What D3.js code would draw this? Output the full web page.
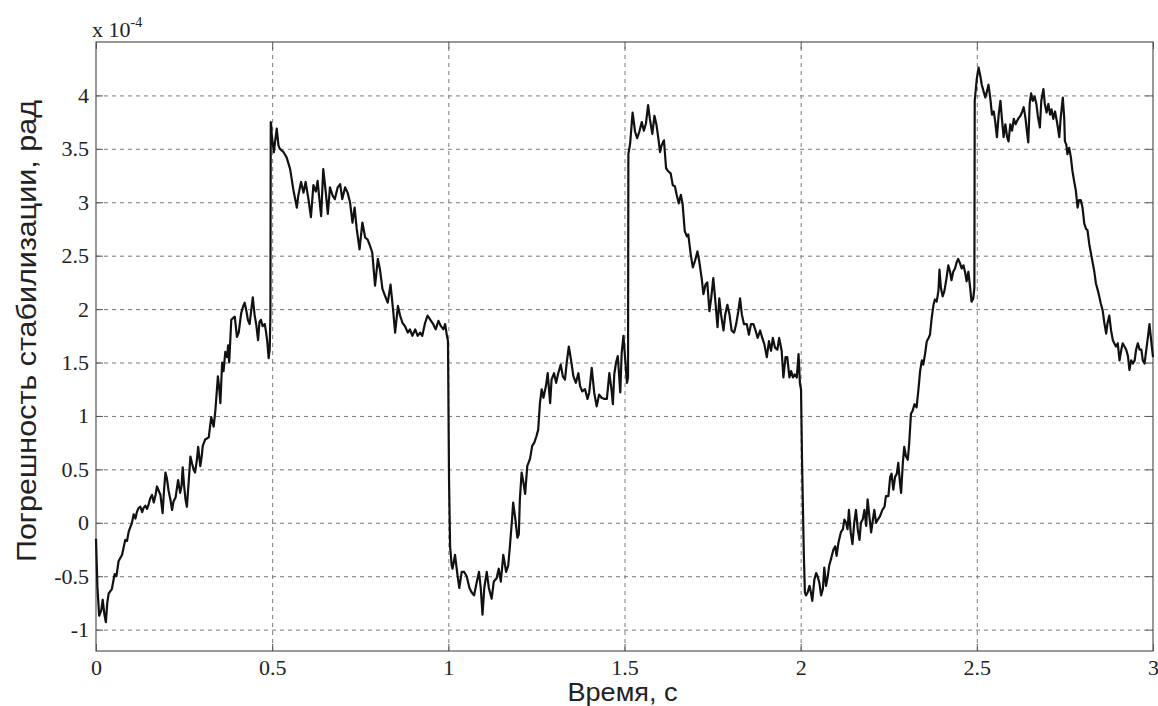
<!DOCTYPE html>
<html>
<head>
<meta charset="utf-8">
<script src="https://cdn.jsdelivr.net/npm/d3@7"></script>
<style>
  body { margin: 0; background: #ffffff; }
  svg { display: block; }
</style>
</head>
<body>
<svg id="chart" width="1158" height="706"></svg>
<script>
// Axis ticks and their labels
const xTicks = [0, 0.5, 1, 1.5, 2, 2.5, 3];
const xTickLabels = ["0", "0.5", "1", "1.5", "2", "2.5", "3"];
const yTicks = [-1, -0.5, 0, 0.5, 1, 1.5, 2, 2.5, 3, 3.5, 4];
const yTickLabels = ["-1", "-0.5", "0", "0.5", "1", "1.5", "2", "2.5", "3", "3.5", "4"];

// Stabilization error (units of 1e-4 rad) versus time, s — one pair of arrays per half-second interval
const time1 = [0, 0.004, 0.009, 0.015, 0.019, 0.024, 0.028, 0.032, 0.036, 0.045, 0.053, 0.058, 0.064, 0.074, 0.083, 0.088, 0.093, 0.102, 0.107, 0.112, 0.116, 0.121, 0.126, 0.131, 0.135, 0.14, 0.145, 0.15, 0.154, 0.159, 0.164, 0.169, 0.173, 0.178, 0.183, 0.189, 0.193, 0.197, 0.201, 0.206, 0.211, 0.216, 0.22, 0.226, 0.233, 0.239, 0.243, 0.246, 0.25, 0.254, 0.258, 0.263, 0.268, 0.273, 0.277, 0.281, 0.286, 0.29, 0.296, 0.3, 0.303, 0.31, 0.32, 0.327, 0.334, 0.339, 0.346, 0.35, 0.353, 0.358, 0.362, 0.367, 0.372, 0.375, 0.378, 0.384, 0.39, 0.394, 0.398, 0.4, 0.405, 0.412, 0.417, 0.422, 0.427, 0.431, 0.436, 0.441, 0.445, 0.45, 0.455, 0.46, 0.464, 0.468, 0.473, 0.479, 0.482, 0.486, 0.49, 0.493, 0.495];
const error1 = [-0.15, -0.6, -0.87, -0.82, -0.72, -0.86, -0.93, -0.75, -0.66, -0.62, -0.48, -0.5, -0.36, -0.3, -0.16, -0.17, -0.08, 0.0, 0.08, 0.04, 0.1, 0.14, 0.15, 0.1, 0.14, 0.16, 0.13, 0.18, 0.23, 0.26, 0.19, 0.26, 0.34, 0.3, 0.26, 0.09, 0.3, 0.47, 0.42, 0.3, 0.22, 0.12, 0.2, 0.24, 0.4, 0.28, 0.35, 0.52, 0.35, 0.22, 0.15, 0.38, 0.62, 0.55, 0.5, 0.47, 0.58, 0.71, 0.53, 0.62, 0.72, 0.78, 0.8, 0.99, 0.9, 1.06, 1.37, 1.25, 1.12, 1.5, 1.42, 1.6, 1.55, 1.66, 1.5, 1.9, 1.92, 1.93, 1.8, 1.74, 1.78, 1.96, 2.02, 2.06, 1.98, 1.9, 1.86, 2.0, 2.11, 1.95, 1.85, 1.71, 1.88, 1.9, 1.84, 1.86, 1.8, 1.7, 1.54, 1.62, 1.95];

const time2 = [0.496, 0.497, 0.499, 0.505, 0.508, 0.513, 0.518, 0.522, 0.532, 0.541, 0.551, 0.56, 0.57, 0.574, 0.582, 0.589, 0.595, 0.603, 0.61, 0.617, 0.624, 0.629, 0.634, 0.639, 0.645, 0.652, 0.658, 0.664, 0.672, 0.678, 0.686, 0.693, 0.699, 0.707, 0.714, 0.721, 0.728, 0.734, 0.74, 0.748, 0.756, 0.764, 0.771, 0.778, 0.784, 0.792, 0.8, 0.806, 0.813, 0.821, 0.828, 0.836, 0.843, 0.849, 0.857, 0.863, 0.87, 0.877, 0.885, 0.891, 0.898, 0.906, 0.913, 0.92, 0.926, 0.934, 0.941, 0.949, 0.957, 0.964, 0.972, 0.979, 0.986, 0.991, 0.996, 0.999];
const error2 = [3.75, 3.73, 3.62, 3.47, 3.56, 3.69, 3.53, 3.5, 3.47, 3.42, 3.31, 3.12, 2.95, 3.06, 3.19, 3.09, 3.19, 3.03, 2.86, 3.16, 3.1, 3.2, 3.03, 2.87, 3.31, 3.1, 2.89, 3.14, 3.06, 3.03, 3.14, 3.17, 3.03, 3.14, 3.09, 3.0, 2.81, 2.95, 2.75, 2.56, 2.81, 2.67, 2.65, 2.59, 2.53, 2.22, 2.47, 2.37, 2.19, 2.12, 2.06, 2.23, 2.0, 1.78, 2.03, 1.94, 1.87, 1.84, 1.78, 1.81, 1.75, 1.81, 1.75, 1.78, 1.75, 1.87, 1.94, 1.9, 1.86, 1.81, 1.89, 1.84, 1.81, 1.86, 1.75, 1.7];

const time3 = [1.002, 1.005, 1.0095, 1.012, 1.019, 1.026, 1.031, 1.038, 1.045, 1.052, 1.06, 1.066, 1.073, 1.081, 1.087, 1.092, 1.097, 1.102, 1.109, 1.115, 1.123, 1.129, 1.137, 1.143, 1.149, 1.156, 1.164, 1.17, 1.175, 1.181, 1.184, 1.19, 1.196, 1.2, 1.203, 1.208, 1.213, 1.218, 1.224, 1.232, 1.238, 1.244, 1.25, 1.255, 1.26, 1.265, 1.27, 1.277, 1.282, 1.289, 1.293, 1.3, 1.306, 1.312, 1.319, 1.325, 1.331, 1.336, 1.342, 1.348, 1.355, 1.362, 1.369, 1.374, 1.38, 1.388, 1.395, 1.4, 1.407, 1.414, 1.421, 1.428, 1.435, 1.442, 1.45, 1.457, 1.463, 1.467, 1.471, 1.476, 1.481, 1.488, 1.492, 1.497, 1.502, 1.507, 1.51];
const error3 = [0.4, -0.22, -0.4, -0.43, -0.3, -0.49, -0.61, -0.46, -0.46, -0.5, -0.61, -0.65, -0.68, -0.55, -0.46, -0.61, -0.86, -0.61, -0.46, -0.61, -0.71, -0.55, -0.52, -0.43, -0.55, -0.3, -0.46, -0.4, -0.21, 0.04, 0.19, 0.04, -0.14, -0.11, 0.22, 0.47, 0.38, 0.27, 0.53, 0.6, 0.72, 0.75, 0.81, 0.87, 1.12, 1.25, 1.17, 1.28, 1.4, 1.12, 1.34, 1.4, 1.31, 1.4, 1.48, 1.37, 1.34, 1.5, 1.65, 1.53, 1.37, 1.31, 1.4, 1.28, 1.23, 1.25, 1.16, 1.22, 1.45, 1.22, 1.09, 1.2, 1.17, 1.16, 1.16, 1.4, 1.25, 1.11, 1.39, 1.5, 1.56, 1.22, 1.59, 1.75, 1.53, 1.31, 1.36];

const time4 = [1.511, 1.516, 1.523, 1.53, 1.536, 1.542, 1.549, 1.555, 1.561, 1.567, 1.572, 1.579, 1.585, 1.591, 1.596, 1.601, 1.605, 1.612, 1.618, 1.624, 1.631, 1.637, 1.643, 1.648, 1.654, 1.66, 1.665, 1.671, 1.677, 1.681, 1.688, 1.694, 1.7, 1.707, 1.712, 1.719, 1.724, 1.73, 1.735, 1.741, 1.746, 1.752, 1.758, 1.764, 1.769, 1.774, 1.781, 1.786, 1.792, 1.798, 1.804, 1.811, 1.817, 1.823, 1.828, 1.833, 1.839, 1.847, 1.853, 1.859, 1.866, 1.872, 1.878, 1.885, 1.891, 1.897, 1.904, 1.91, 1.916, 1.921, 1.927, 1.934, 1.939, 1.946, 1.951, 1.957, 1.962, 1.968, 1.973, 1.978, 1.983, 1.989, 1.994, 1.998];
const error4 = [3.45, 3.55, 3.84, 3.66, 3.6, 3.66, 3.75, 3.67, 3.74, 3.91, 3.78, 3.64, 3.81, 3.72, 3.6, 3.47, 3.53, 3.58, 3.32, 3.29, 3.27, 3.16, 3.15, 3.07, 2.99, 3.07, 2.98, 2.73, 2.68, 2.7, 2.51, 2.39, 2.45, 2.54, 2.45, 2.29, 2.14, 2.23, 2.25, 1.98, 2.1, 2.29, 2.07, 1.83, 2.1, 1.95, 1.8, 1.95, 2.04, 1.95, 1.8, 1.78, 1.86, 1.98, 2.1, 1.95, 1.86, 1.86, 1.76, 1.86, 1.86, 1.8, 1.73, 1.8, 1.73, 1.67, 1.55, 1.7, 1.61, 1.73, 1.64, 1.62, 1.73, 1.61, 1.36, 1.55, 1.55, 1.36, 1.42, 1.36, 1.39, 1.36, 1.58, 1.3];

const time5 = [2.001, 2.004, 2.009, 2.012, 2.015, 2.02, 2.025, 2.029, 2.033, 2.039, 2.044, 2.048, 2.053, 2.058, 2.063, 2.067, 2.072, 2.077, 2.081, 2.086, 2.093, 2.098, 2.102, 2.107, 2.114, 2.12, 2.124, 2.129, 2.133, 2.137, 2.142, 2.147, 2.152, 2.157, 2.162, 2.167, 2.171, 2.176, 2.181, 2.186, 2.19, 2.195, 2.2, 2.205, 2.209, 2.214, 2.219, 2.225, 2.232, 2.238, 2.242, 2.249, 2.254, 2.258, 2.263, 2.268, 2.273, 2.277, 2.282, 2.285, 2.29, 2.294, 2.299, 2.304, 2.308, 2.313, 2.318, 2.323, 2.329, 2.334, 2.339, 2.344, 2.348, 2.353, 2.358, 2.363, 2.367, 2.372, 2.377, 2.381, 2.386, 2.391, 2.394, 2.398, 2.403, 2.408, 2.414, 2.419, 2.424, 2.428, 2.433, 2.438, 2.443, 2.447, 2.452, 2.457, 2.462, 2.467, 2.471, 2.476, 2.481, 2.485, 2.49, 2.493];
const error5 = [1.25, 0.56, -0.3, -0.65, -0.68, -0.65, -0.59, -0.65, -0.73, -0.53, -0.47, -0.5, -0.56, -0.68, -0.62, -0.42, -0.59, -0.5, -0.4, -0.34, -0.25, -0.22, -0.31, -0.19, -0.09, -0.06, 0.03, 0.0, -0.06, 0.12, -0.09, -0.2, 0.0, 0.12, -0.06, -0.16, 0.0, 0.03, 0.12, -0.03, 0.22, 0.06, -0.09, 0.03, 0.12, 0.0, 0.03, 0.06, 0.12, 0.15, 0.25, 0.25, 0.43, 0.46, 0.31, 0.43, 0.46, 0.56, 0.37, 0.28, 0.56, 0.71, 0.62, 0.59, 0.74, 1.02, 1.05, 1.11, 1.08, 1.24, 1.42, 1.52, 1.48, 1.58, 1.7, 1.73, 1.76, 1.92, 2.04, 2.09, 2.07, 2.17, 2.37, 2.2, 2.12, 2.17, 2.29, 2.41, 2.35, 2.27, 2.35, 2.38, 2.44, 2.47, 2.43, 2.38, 2.41, 2.34, 2.26, 2.35, 2.2, 2.07, 2.1, 2.2];

const time6 = [2.494, 2.5, 2.505, 2.51, 2.514, 2.519, 2.524, 2.529, 2.533, 2.538, 2.543, 2.548, 2.552, 2.557, 2.562, 2.567, 2.571, 2.576, 2.581, 2.586, 2.59, 2.595, 2.6, 2.605, 2.61, 2.614, 2.619, 2.624, 2.629, 2.633, 2.638, 2.643, 2.646, 2.65, 2.654, 2.659, 2.664, 2.669, 2.673, 2.679, 2.683, 2.689, 2.693, 2.698, 2.703, 2.708, 2.712, 2.717, 2.722, 2.727, 2.73, 2.734, 2.738, 2.744, 2.748, 2.75, 2.754, 2.757, 2.762, 2.767, 2.771, 2.776, 2.781, 2.786, 2.79, 2.795, 2.8, 2.805, 2.81, 2.814, 2.819, 2.824, 2.829, 2.833, 2.838, 2.843, 2.848, 2.852, 2.857, 2.862, 2.867, 2.871, 2.876, 2.881, 2.886, 2.89, 2.895, 2.9, 2.905, 2.91, 2.914, 2.919, 2.924, 2.929, 2.933, 2.938, 2.943, 2.948, 2.952, 2.957, 2.962, 2.967, 2.971, 2.976, 2.981, 2.986, 2.99, 2.995, 3.0];
const error6 = [3.95, 4.16, 4.26, 4.18, 4.1, 4.04, 3.98, 4.04, 4.1, 3.98, 3.82, 3.85, 3.76, 3.61, 3.82, 3.95, 3.79, 3.61, 3.73, 3.61, 3.57, 3.73, 3.67, 3.78, 3.73, 3.76, 3.79, 3.81, 3.85, 3.89, 3.79, 3.64, 3.56, 3.92, 4.02, 3.95, 3.99, 3.92, 3.81, 3.7, 3.95, 4.06, 3.92, 3.84, 3.92, 3.82, 3.87, 3.78, 3.85, 3.76, 3.7, 3.61, 3.79, 3.98, 3.79, 3.57, 3.54, 3.45, 3.51, 3.42, 3.3, 3.2, 3.11, 2.95, 3.02, 3.02, 2.95, 2.8, 2.75, 2.74, 2.61, 2.52, 2.43, 2.36, 2.24, 2.18, 2.11, 2.05, 1.99, 1.87, 1.77, 1.87, 1.94, 1.8, 1.71, 1.68, 1.65, 1.68, 1.52, 1.62, 1.68, 1.65, 1.62, 1.56, 1.43, 1.52, 1.49, 1.52, 1.62, 1.68, 1.62, 1.62, 1.52, 1.49, 1.62, 1.75, 1.86, 1.7, 1.55];

const timeParts = [time1, time2, time3, time4, time5, time6];
const errorParts = [error1, error2, error3, error4, error5, error6];

const series = [];
timeParts.forEach((ts, k) => {
  const es = errorParts[k];
  if (ts.length !== es.length) throw new Error("interval " + (k + 1) + ": " + ts.length + " times vs " + es.length + " values");
  ts.forEach((t, i) => series.push({ t: t, e: es[i] }));
});

const svg = d3.select("#chart");
const plot = { left: 96, right: 1153, top: 42, bottom: 651 };

const x = d3.scaleLinear().domain([0, 3]).range([plot.left, plot.right]);
const y = d3.scaleLinear().domain([-1.2, 4.5]).range([plot.bottom, plot.top]);

const plotW = plot.right - plot.left;
const plotH = plot.bottom - plot.top;

// Dashed grid
const gridColor = "#7a7a7a";
const xGrid = svg.append("g")
  .attr("transform", `translate(0,${plot.bottom})`)
  .call(d3.axisBottom(x).tickValues(xTicks.filter(v => v > 0 && v < 3)).tickSize(-plotH).tickFormat(""));
const yGrid = svg.append("g")
  .attr("transform", `translate(${plot.left},0)`)
  .call(d3.axisLeft(y).tickValues(yTicks).tickSize(-plotW).tickFormat(""));
[xGrid, yGrid].forEach(g => {
  g.select(".domain").remove();
  g.selectAll("line").attr("stroke", gridColor).attr("stroke-width", 1).attr("stroke-dasharray", "4,4");
});

// Inward tick marks on all four sides
const tickLen = 7;
const tickColor = "#555";
const tAxes = [
  svg.append("g").attr("transform", `translate(0,${plot.bottom})`).call(d3.axisBottom(x).tickValues(xTicks).tickSize(-tickLen).tickFormat("")),
  svg.append("g").attr("transform", `translate(0,${plot.top})`).call(d3.axisTop(x).tickValues(xTicks).tickSize(-tickLen).tickFormat("")),
  svg.append("g").attr("transform", `translate(${plot.left},0)`).call(d3.axisLeft(y).tickValues(yTicks).tickSize(-tickLen).tickFormat("")),
  svg.append("g").attr("transform", `translate(${plot.right},0)`).call(d3.axisRight(y).tickValues(yTicks).tickSize(-tickLen).tickFormat(""))
];
tAxes.forEach(g => {
  g.select(".domain").remove();
  g.selectAll("line").attr("stroke", tickColor).attr("stroke-width", 1);
});

// Frame
svg.append("rect")
  .attr("x", plot.left).attr("y", plot.top)
  .attr("width", plotW).attr("height", plotH)
  .attr("fill", "none").attr("stroke", "#555").attr("stroke-width", 1.2);

// Tick labels
const serif = "'Liberation Serif', 'DejaVu Serif', serif";
const xLab = svg.append("g")
  .attr("transform", `translate(0,${plot.bottom})`)
  .call(d3.axisBottom(x).tickValues(xTicks).tickSize(0).tickPadding(8)
    .tickFormat((d, i) => xTickLabels[i]));
const yLab = svg.append("g")
  .attr("transform", `translate(${plot.left},0)`)
  .call(d3.axisLeft(y).tickValues(yTicks).tickSize(0).tickPadding(7)
    .tickFormat((d, i) => yTickLabels[i]));
[xLab, yLab].forEach(g => {
  g.select(".domain").remove();
  g.selectAll("text")
    .attr("font-family", serif)
    .attr("font-size", 22)
    .attr("fill", "#222");
});

// Exponent note above the y axis
const expo = svg.append("text")
  .attr("x", 92).attr("y", 37)
  .attr("font-family", serif).attr("font-size", 22).attr("fill", "#222");
expo.append("tspan").text("x 10");
expo.append("tspan").attr("dy", -10).attr("font-size", 14).text("-4");

// Error curve
const line = d3.line()
  .x(d => x(d.t))
  .y(d => y(d.e));
svg.append("path")
  .datum(series)
  .attr("d", line)
  .attr("fill", "none")
  .attr("stroke", "#111")
  .attr("stroke-width", 2.2)
  .attr("stroke-linejoin", "round");

// Axis titles
const sans = "'Liberation Sans', Arial, sans-serif";
svg.append("text")
  .attr("x", (plot.left + plot.right) / 2 - 2)
  .attr("y", 701)
  .attr("text-anchor", "middle")
  .attr("font-family", sans).attr("font-size", 25).attr("fill", "#222")
  .attr("textLength", 110).attr("lengthAdjust", "spacingAndGlyphs")
  .text("Время, с");
svg.append("text")
  .attr("transform", "translate(36,331) rotate(-90)")
  .attr("text-anchor", "middle")
  .attr("font-family", sans).attr("font-size", 27).attr("fill", "#222")
  .attr("textLength", 462).attr("lengthAdjust", "spacingAndGlyphs")
  .text("Погрешность стабилизации, рад");
</script>
</body>
</html>
